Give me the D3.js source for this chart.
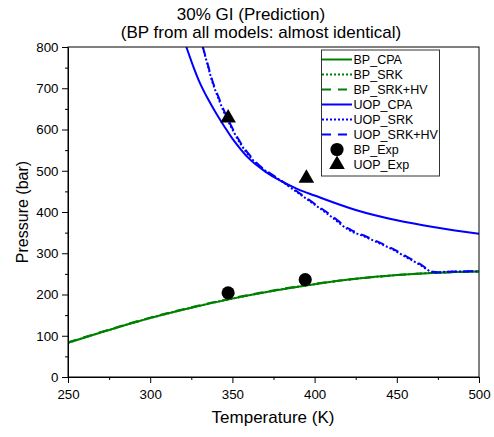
<!DOCTYPE html>
<html><head><meta charset="utf-8">
<script src="https://cdn.jsdelivr.net/npm/d3@7"></script>
<style>body{margin:0;background:#fff}svg{display:block}text{font-family:"Liberation Sans",Arial,sans-serif}</style>
</head><body><svg id="c" width="494" height="437"></svg>
<script>
const bpT = [250, 275, 300, 325, 350, 375, 400, 425, 450, 475, 500];
const bpCPA = [83, 114, 143, 168, 190, 209, 225, 238, 247, 253, 256];
const bpSRK = [83, 114, 143, 168, 190, 209, 225, 238, 247, 253, 256];
const bpSRKHV = [84, 115, 144, 169, 191, 210, 226, 238, 247, 253, 256];
const uopCpaT = [322, 326, 330, 335, 340, 345, 350, 360, 370, 380, 390, 400, 425, 450, 475, 500];
const uopCPA = [800, 755, 715, 675, 640, 608, 578, 530, 498, 474, 455, 440, 405, 380, 362, 347];
const uopSrkT = [332, 335, 338, 342, 346, 350, 355, 360, 367, 373, 379, 390, 400, 410, 421, 430, 440, 448, 456, 464, 472, 480, 490, 500];
const uopSRK = [800, 755, 713, 670, 632, 600, 565, 537, 509, 492, 477, 446, 418, 389, 356, 341, 323, 308, 290, 272, 254, 255, 256, 256];
const uopSRKHV = [800, 758, 716, 674, 636, 603, 568, 540, 511, 494, 478, 448, 420, 392, 359, 343, 325, 310, 292, 274, 255, 255, 256, 256];
const expT = [347.4, 394.3];
const bpExp = [204, 236];
const uopExpT = [347.4, 395];
const uopExp = [628, 482];
const xTicks = [250, 300, 350, 400, 450, 500];
const yTicks = [0, 100, 200, 300, 400, 500, 600, 700, 800];
const legendNames = ["BP_CPA","BP_SRK","BP_SRK+HV","UOP_CPA","UOP_SRK","UOP_SRK+HV","BP_Exp","UOP_Exp"];

const svg = d3.select("#c");
const L=68, R=479, T=47, B=377;
const x = d3.scaleLinear().domain([250,500]).range([L,R]);
const y = d3.scaleLinear().domain([0,800]).range([B,T]);

const defs = svg.append("defs");
defs.append("clipPath").attr("id","clip").append("rect").attr("x",L).attr("y",T).attr("width",R-L).attr("height",B-T);

const g = svg.append("g").attr("clip-path","url(#clip)");
const line = d3.line().x(d=>x(d[0])).y(d=>y(d[1])).curve(d3.curveCatmullRom.alpha(0.5));
function series(ts, ps, color, dash){
  g.append("path").datum(ts.map((t,i)=>[t,ps[i]])).attr("d",line)
   .attr("fill","none").attr("stroke",color).attr("stroke-width",2).attr("stroke-dasharray",dash||null);
}
series(bpT,bpCPA,"#008000");
series(bpT,bpSRK,"#008000","2,2");
series(bpT,bpSRKHV,"#008000","9,7");
series(uopCpaT,uopCPA,"#0000ff");
series(uopSrkT,uopSRK,"#0000ff","2,2");
series(uopSrkT,uopSRKHV,"#0000ff","9,7");

// experimental
svg.append("g").selectAll("circle").data(expT.map((t,i)=>[t,bpExp[i]])).join("circle")
  .attr("cx",d=>x(d[0])).attr("cy",d=>y(d[1])).attr("r",6.6).attr("fill","#000");
const tri = d3.symbol().type(d3.symbolTriangle).size(105);
svg.append("g").selectAll("path").data(uopExpT.map((t,i)=>[t,uopExp[i]])).join("path")
  .attr("d",tri).attr("transform",d=>`translate(${x(d[0])},${y(d[1])})`).attr("fill","#000");

// frame
svg.append("rect").attr("x",L).attr("y",T).attr("width",R-L).attr("height",B-T).attr("fill","none").attr("stroke","#000").attr("stroke-width",1);

// axes
const xa = svg.append("g").attr("transform",`translate(0,${B})`)
  .call(d3.axisBottom(x).tickValues(xTicks).tickFormat(d3.format("d")).tickSize(6).tickPadding(3).tickSizeOuter(0));
svg.append("g").attr("transform",`translate(0,${B})`)
  .call(d3.axisBottom(x).tickValues(d3.range(275,500,50)).tickFormat("").tickSize(3).tickSizeOuter(0)).select(".domain").remove();
const ya = svg.append("g").attr("transform",`translate(${L},0)`)
  .call(d3.axisLeft(y).tickValues(yTicks).tickFormat(d3.format("d")).tickSize(6).tickPadding(3.5).tickSizeOuter(0));
svg.append("g").attr("transform",`translate(${L},0)`)
  .call(d3.axisLeft(y).tickValues(d3.range(50,800,100)).tickFormat("").tickSize(3).tickSizeOuter(0)).select(".domain").remove();
svg.selectAll(".tick text").attr("font-size",13.3).attr("font-family","Liberation Sans, Arial, sans-serif").attr("fill","#000");
xa.selectAll(".tick text").attr("dy","0.95em");

// labels
svg.append("text").attr("x",273).attr("y",423).attr("text-anchor","middle").attr("font-size",17).text("Temperature (K)");
svg.append("text").attr("transform","translate(28,212) rotate(-90)").attr("text-anchor","middle").attr("font-size",16).text("Pressure (bar)");
svg.append("text").attr("x",251).attr("y",20).attr("text-anchor","middle").attr("font-size",17).text("30% GI (Prediction)");
svg.append("text").attr("x",261).attr("y",37.5).attr("text-anchor","middle").attr("font-size",17).text("(BP from all models: almost identical)");

// legend
const lg = svg.append("g");
lg.append("rect").attr("x",321.5).attr("y",50).attr("width",118).attr("height",126).attr("fill","#fff").attr("stroke","#333");
const styles = [["#008000",null],["#008000","2,2"],["#008000","9,7"],["#0000ff",null],["#0000ff","2,2"],["#0000ff","9,7"]];
legendNames.forEach((n,i)=>{
  const yy = 59.5 + i*15;
  if(i<6){
    lg.append("line").attr("x1",322).attr("x2",352).attr("y1",yy).attr("y2",yy)
      .attr("stroke",styles[i][0]).attr("stroke-width",2).attr("stroke-dasharray",styles[i][1]);
  } else if(i===6){
    lg.append("circle").attr("cx",337).attr("cy",yy).attr("r",6.6).attr("fill","#000");
  } else {
    lg.append("path").attr("d",tri).attr("transform",`translate(337,${yy})`).attr("fill","#000");
  }
  lg.append("text").attr("x",353.5).attr("y",yy+4.5).attr("font-size",12.5).text(n);
});
</script></body></html>
